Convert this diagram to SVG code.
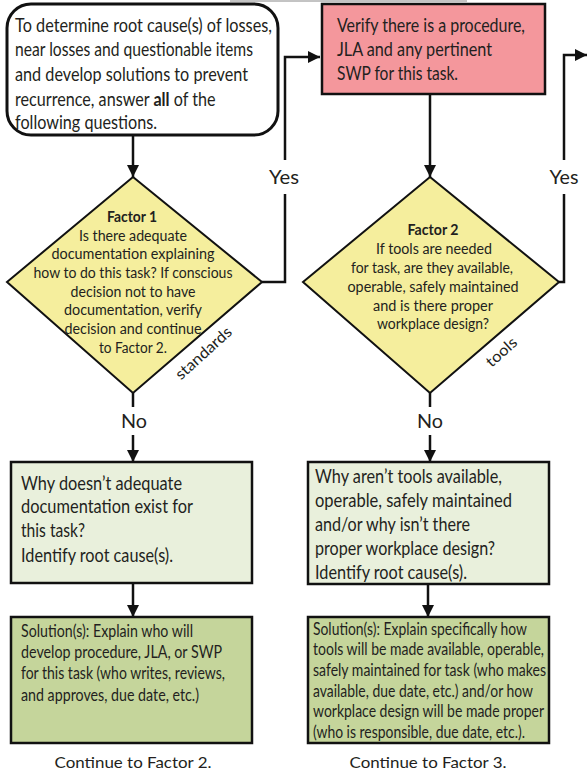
<svg xmlns="http://www.w3.org/2000/svg" width="587" height="771" viewBox="0 0 587 771">
<style>
text{font-family:Lato,"Noto Sans","Liberation Sans",sans-serif;fill:#231f20}
.t17{font-size:19px}
.t15{font-size:16.5px}
.t14{font-size:15.5px}
.t16{font-size:16px}
.c{text-anchor:middle}
.b{font-weight:bold}
.ln{stroke:#111;stroke-width:2.5;fill:none}
.box{stroke:#111;stroke-width:2.5}
</style>
<defs>
<marker id="ah" markerUnits="userSpaceOnUse" markerWidth="14" markerHeight="14" refX="12" refY="6" orient="auto">
<path d="M0,0 L12,6 L0,12 Z" fill="#111"/>
</marker>
</defs>
<rect width="587" height="771" fill="#fff"/>
<line x1="230" y1="1" x2="467" y2="1" stroke="#888" stroke-width="1"/>

<g id="connectors">
<line class="ln" x1="133" y1="135" x2="133" y2="177" marker-end="url(#ah)"/>
<polyline class="ln" points="262,282 285,282 285,194"/>
<polyline class="ln" points="285,160 285,57 320,57" marker-end="url(#ah)"/>
<line class="ln" x1="430" y1="94" x2="430" y2="177" marker-end="url(#ah)"/>
<polyline class="ln" points="559,282 564,282 564,194"/>
<polyline class="ln" points="564,160 564,55 587,55" marker-end="url(#ah)"/>
<line class="ln" x1="133" y1="393" x2="133" y2="407"/>
<line class="ln" x1="133" y1="435" x2="133" y2="462" marker-end="url(#ah)"/>
<line class="ln" x1="430" y1="393" x2="430" y2="407"/>
<line class="ln" x1="430" y1="435" x2="430" y2="462" marker-end="url(#ah)"/>
<line class="ln" x1="133" y1="583" x2="133" y2="617" marker-end="url(#ah)"/>
<line class="ln" x1="428" y1="584" x2="428" y2="617" marker-end="url(#ah)"/>
<text class="t17 c" x="284" y="184" textLength="30" lengthAdjust="spacingAndGlyphs">Yes</text>
<text class="t17 c" x="564" y="184" textLength="29" lengthAdjust="spacingAndGlyphs">Yes</text>
<text class="t17 c" x="134" y="428" textLength="26" lengthAdjust="spacingAndGlyphs">No</text>
<text class="t17 c" x="430" y="428" textLength="26" lengthAdjust="spacingAndGlyphs">No</text>
</g>

<g id="start">
<rect x="7" y="4" width="271" height="131" rx="24" ry="24" fill="#fff" stroke="#111" stroke-width="3"/>
<text class="t17" x="15" y="32" textLength="257" lengthAdjust="spacingAndGlyphs">To determine root cause(s) of losses,</text>
<text class="t17" x="15" y="56" textLength="238" lengthAdjust="spacingAndGlyphs">near losses and questionable items</text>
<text class="t17" x="15" y="81" textLength="233" lengthAdjust="spacingAndGlyphs">and develop solutions to prevent</text>
<text class="t17" transform="translate(15,106) scale(0.85,1)">recurrence, answer <tspan class="b">all</tspan> of the</text>
<text class="t17" x="15" y="129" textLength="142" lengthAdjust="spacingAndGlyphs">following questions.</text>
</g>

<g id="verify">
<rect class="box" x="322" y="4" width="223" height="90" fill="#f4979c"/>
<text class="t17" x="337" y="32" textLength="188" lengthAdjust="spacingAndGlyphs">Verify there is a procedure,</text>
<text class="t17" x="337" y="56" textLength="155" lengthAdjust="spacingAndGlyphs">JLA and any pertinent</text>
<text class="t17" x="337" y="80" textLength="121" lengthAdjust="spacingAndGlyphs">SWP for this task.</text>
</g>

<g id="factor1">
<polygon points="133,177 262,282 133,393 7,282" fill="#f5ee9d" stroke="#111" stroke-width="2"/>
<text class="t14 c b" x="132" y="222" textLength="50" lengthAdjust="spacingAndGlyphs">Factor 1</text>
<text class="t14 c" x="133" y="241" textLength="108" lengthAdjust="spacingAndGlyphs">Is there adequate</text>
<text class="t14 c" x="133" y="259" textLength="163" lengthAdjust="spacingAndGlyphs">documentation explaining</text>
<text class="t14 c" x="133" y="278" textLength="199" lengthAdjust="spacingAndGlyphs">how to do this task? If conscious</text>
<text class="t14 c" x="133" y="297" textLength="125" lengthAdjust="spacingAndGlyphs">decision not to have</text>
<text class="t14 c" x="133" y="315" textLength="138" lengthAdjust="spacingAndGlyphs">documentation, verify</text>
<text class="t14 c" x="133" y="334" textLength="137" lengthAdjust="spacingAndGlyphs">decision and continue</text>
<text class="t14 c" x="133" y="353" textLength="68" lengthAdjust="spacingAndGlyphs">to Factor 2.</text>
<text class="t14 c" transform="translate(207,357) rotate(-42)" textLength="70" lengthAdjust="spacingAndGlyphs">standards</text>
</g>

<g id="factor2">
<polygon points="430,177 559,282 430,393 303,282" fill="#f5ee9d" stroke="#111" stroke-width="2"/>
<text class="t14 c b" x="433" y="235" textLength="51" lengthAdjust="spacingAndGlyphs">Factor 2</text>
<text class="t14 c" x="434" y="254" textLength="116" lengthAdjust="spacingAndGlyphs">If tools are needed</text>
<text class="t14 c" x="432" y="273" textLength="162" lengthAdjust="spacingAndGlyphs">for task, are they available,</text>
<text class="t14 c" x="433" y="292" textLength="171" lengthAdjust="spacingAndGlyphs">operable, safely maintained</text>
<text class="t14 c" x="433" y="311" textLength="120" lengthAdjust="spacingAndGlyphs">and is  there proper</text>
<text class="t14 c" x="433" y="329" textLength="112" lengthAdjust="spacingAndGlyphs">workplace design?</text>
<text class="t14 c" transform="translate(505,356) rotate(-42)" textLength="36" lengthAdjust="spacingAndGlyphs">tools</text>
</g>

<g id="why1">
<rect class="box" x="11" y="462" width="241" height="121" fill="#e9f0dc"/>
<text class="t17" x="21" y="490" textLength="161" lengthAdjust="spacingAndGlyphs">Why doesn’t adequate</text>
<text class="t17" x="21" y="513" textLength="172" lengthAdjust="spacingAndGlyphs">documentation exist for</text>
<text class="t17" x="21" y="537" textLength="64" lengthAdjust="spacingAndGlyphs">this task?</text>
<text class="t17" x="21" y="562" textLength="152" lengthAdjust="spacingAndGlyphs">Identify root cause(s).</text>
</g>

<g id="why2">
<rect class="box" x="308" y="462" width="241" height="122" fill="#e9f0dc"/>
<text class="t17" x="315" y="483" textLength="187" lengthAdjust="spacingAndGlyphs">Why aren’t tools available,</text>
<text class="t17" x="315" y="507" textLength="197" lengthAdjust="spacingAndGlyphs">operable, safely maintained</text>
<text class="t17" x="315" y="531" textLength="155" lengthAdjust="spacingAndGlyphs">and/or why isn’t there</text>
<text class="t17" x="315" y="555" textLength="180" lengthAdjust="spacingAndGlyphs">proper workplace design?</text>
<text class="t17" x="315" y="579" textLength="152" lengthAdjust="spacingAndGlyphs">Identify root cause(s).</text>
</g>

<g id="solution1">
<rect class="box" x="11" y="617" width="241" height="126" fill="#c5d59b"/>
<text class="t15" x="21" y="637" textLength="172" lengthAdjust="spacingAndGlyphs">Solution(s): Explain who will</text>
<text class="t15" x="21" y="658" textLength="201" lengthAdjust="spacingAndGlyphs">develop procedure, JLA, or SWP</text>
<text class="t15" x="21" y="679" textLength="204" lengthAdjust="spacingAndGlyphs">for this task (who writes, reviews,</text>
<text class="t15" x="21" y="701" textLength="178" lengthAdjust="spacingAndGlyphs">and approves, due date, etc.)</text>
</g>

<g id="solution2">
<rect class="box" x="308" y="617" width="241" height="126" fill="#c5d59b"/>
<text class="t15" x="313" y="635" textLength="214" lengthAdjust="spacingAndGlyphs">Solution(s): Explain specifically how</text>
<text class="t15" x="313" y="655" textLength="231" lengthAdjust="spacingAndGlyphs">tools will be made available, operable,</text>
<text class="t15" x="313" y="676" textLength="233" lengthAdjust="spacingAndGlyphs">safely maintained for task (who makes</text>
<text class="t15" x="313" y="697" textLength="220" lengthAdjust="spacingAndGlyphs">available, due date, etc.) and/or how</text>
<text class="t15" x="313" y="717" textLength="231" lengthAdjust="spacingAndGlyphs">workplace design will be made proper</text>
<text class="t15" x="313" y="738" textLength="212" lengthAdjust="spacingAndGlyphs">(who is responsible, due date, etc.).</text>
</g>

<g id="continue1">
<text class="t16 c" x="133" y="768" textLength="157" lengthAdjust="spacingAndGlyphs">Continue to Factor 2.</text>
</g>
<g id="continue2">
<text class="t16 c" x="428" y="768" textLength="157" lengthAdjust="spacingAndGlyphs">Continue to Factor 3.</text>
</g>
</svg>
